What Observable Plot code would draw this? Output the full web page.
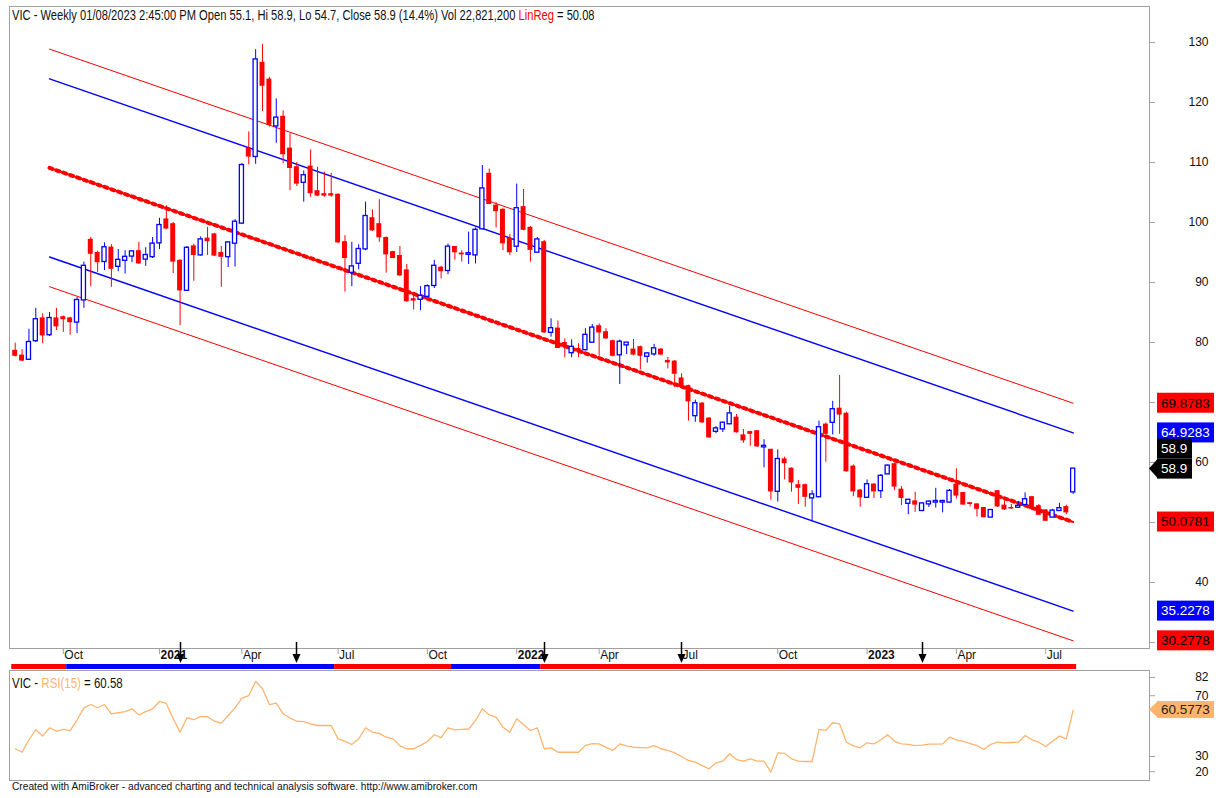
<!DOCTYPE html>
<html><head><meta charset="utf-8">
<script src="https://cdn.jsdelivr.net/npm/d3@7"></script>
<script src="https://cdn.jsdelivr.net/npm/@observablehq/plot@0.6"></script>
<style>
html,body{margin:0;padding:0;background:#fff;}
#wrap{position:relative;width:1226px;height:798px;overflow:hidden;background:#fff;font-family:"Liberation Sans",Arial,sans-serif;}
#main{position:absolute;left:0;top:0;}
#rsi{position:absolute;left:0;top:670px;}
.hdr{position:absolute;white-space:nowrap;color:#111;transform-origin:0 0;}
#title{left:12px;top:7px;font-size:14px;transform:scaleX(0.797);}
#rsiTitle{left:12px;top:675px;font-size:14px;transform:scaleX(0.82);}
#footer{left:12px;top:781px;font-size:10.2px;}
</style></head>
<body><div id="wrap">
<div id="main"></div><div id="rsi"></div>
<div class="hdr" id="title"></div>
<div class="hdr" id="rsiTitle"></div>
<div class="hdr" id="footer"></div>
</div>
<script>
// ---------- DATA (weekly bars, index 0 = Aug 2020 ... 154 = week of 31 Jul 2023) ----------
const opens = [78.6,77.8,77.2,80.3,84.0,81.3,84.0,84.2,84.0,83.4,
 87.1,97.1,94.9,93.5,95.8,92.7,93.7,94.4,95.2,93.9,
 94.3,96.6,100.5,99.7,93.6,88.7,96.0,94.6,97.3,98.0,
 94.9,94.3,96.55,99.9,112.3,111.0,126.6,123.8,116.1,117.6,
 112.3,109.2,106.7,109.3,105.2,104.7,104.7,104.6,96.7,91.7,
 93.2,95.6,100.7,99.7,97.4,95.05,94.4,92.0,87.2,87.2,
 87.7,89.5,92.45,92.0,95.9,94.8,94.7,94.6,98.95,108.1,
 102.8,102.1,97.3,96.05,102.55,99.1,95.05,96.7,81.7,82.3,
 79.9,78.3,78.9,78.8,80.05,82.7,81.7,80.2,77.95,79.6,
 78.8,79.2,77.7,78.1,78.8,76.9,76.8,74.0,72.7,67.8,
 69.8,67.3,65.2,65.6,66.45,67.45,64.5,65.05,65.2,62.6,
 62.1,55.2,60.5,58.95,56.2,56.2,54.1,54.3,66.3,66.7,
 68.95,68.1,59.3,55.3,54.2,56.3,55.3,58.1,59.7,55.45,
 53.2,53.5,52.0,53.1,53.4,53.4,53.4,56.3,54.9,53.2,
 53.0,52.4,50.9,55.2,52.8,52.4,52.55,53.0,54.2,52.7,
 52.0,50.9,52.0,52.55,55.1];
const highs = [79.9,78.8,82.2,85.7,84.8,85.0,85.7,84.4,84.2,87.5,
 93.4,97.5,95.2,96.6,96.3,95.5,95.3,95.3,96.7,95.8,
 97.5,100.7,102.8,100.0,93.8,96.0,96.4,97.6,99.2,98.2,
 96.0,96.8,100.5,109.8,115.1,128.8,129.7,124.2,120.6,118.6,
 114.8,110.0,108.6,112.1,109.2,108.4,108.2,104.8,97.8,96.7,
 96.3,103.4,102.1,103.8,97.6,95.2,96.0,93.0,88.2,89.3,
 89.6,93.7,92.7,96.4,96.0,95.3,98.4,99.1,109.5,108.9,
 103.3,102.3,98.0,106.4,105.5,99.3,97.5,97.0,83.95,83.6,
 80.6,80.45,79.8,82.3,83.0,83.1,82.3,80.4,80.4,80.0,
 80.5,79.4,78.3,79.7,79.0,77.5,77.0,74.8,72.9,70.4,
 70.0,67.5,66.0,66.7,69.4,68.0,65.5,65.2,65.3,63.8,
 62.2,62.1,60.9,59.1,57.0,56.4,55.3,66.9,66.6,70.2,
 74.5,68.4,59.6,55.5,57.1,56.5,58.0,59.6,59.9,56.0,
 53.8,55.05,53.3,53.6,55.7,53.7,55.5,58.95,55.0,53.3,
 53.1,52.5,52.1,55.3,53.6,53.0,53.5,54.95,54.3,53.0,
 52.1,52.2,53.2,52.9,58.9];
const lows = [77.6,76.8,77.0,80.0,79.8,81.0,82.0,81.7,81.2,81.5,
 85.7,89.3,91.7,92.0,89.2,91.8,91.4,93.3,93.0,92.7,
 94.0,95.5,98.8,91.5,82.8,88.5,90.2,94.4,94.5,94.3,
 89.2,92.5,92.6,99.7,109.6,109.7,118.5,115.9,113.2,109.8,
 105.3,106.0,103.4,104.2,104.3,104.2,104.2,96.5,88.4,89.3,
 92.1,95.3,98.5,96.7,91.55,94.0,91.0,86.7,85.4,85.3,
 87.5,89.0,90.6,91.3,93.7,93.4,93.0,93.1,98.8,103.0,
 99.1,95.3,94.5,95.0,98.6,93.4,95.0,81.5,80.9,79.0,
 77.45,77.45,77.5,78.6,79.9,77.7,80.5,77.6,73.0,78.0,
 77.8,75.45,76.55,77.7,77.8,75.6,72.45,72.3,66.9,66.7,
 66.5,64.0,64.8,65.0,66.3,64.9,63.2,62.7,62.5,59.1,
 53.7,53.4,57.1,55.05,53.0,52.55,50.2,54.1,60.05,64.6,
 64.7,58.4,54.3,52.55,54.0,54.0,54.0,58.0,55.3,52.8,
 51.3,51.7,51.8,52.5,52.4,51.6,53.2,53.9,52.9,52.6,
 50.9,50.8,50.8,52.5,52.0,52.2,52.4,52.9,52.1,51.2,
 50.2,50.8,51.9,51.3,54.7];
const closes = [77.8,77.0,80.0,83.8,81.2,84.0,82.7,83.9,83.4,87.0,
 92.7,94.8,93.4,95.8,92.3,93.7,94.2,95.1,93.2,94.5,
 96.4,99.5,99.0,93.5,88.7,95.7,94.6,97.1,96.9,94.5,
 94.3,96.6,100.05,109.5,111.0,127.1,122.8,116.3,117.4,111.4,
 109.1,106.5,107.8,104.9,104.5,104.5,104.5,96.7,94.1,92.6,
 95.5,101.0,98.7,97.55,94.7,94.1,91.2,86.9,87.0,87.7,
 89.3,92.7,91.9,95.9,95.05,94.7,94.8,98.7,105.6,103.1,
 101.9,96.55,95.05,102.3,98.8,95.45,97.1,81.7,82.3,79.1,
 79.3,79.2,78.7,81.2,82.4,81.7,80.7,77.8,80.05,79.9,
 78.0,77.8,78.1,78.95,78.0,76.7,74.8,72.7,70.2,69.8,
 66.7,64.2,65.6,66.55,68.1,65.05,63.7,64.8,62.7,62.7,
 55.2,60.5,59.9,56.7,55.8,54.3,54.6,65.8,64.8,68.8,
 68.0,58.55,55.2,54.2,56.3,55.2,57.7,59.4,56.0,54.1,
 53.7,53.0,53.1,53.4,53.5,53.5,55.2,54.5,53.0,53.1,
 52.3,50.9,52.0,52.7,52.2,52.35,52.7,53.8,52.3,51.3,
 50.3,51.9,52.3,51.7,58.9];
const rsiValues = [35.1,32.8,41,47.6,43.4,48.9,46.7,47.9,47.0,54,
 62,64.2,62.1,64.2,58.1,58.8,59.5,61.4,57.4,59.5,
 61.4,66.2,64.9,54.8,46.0,55.5,54.2,56.4,56.2,53.2,
 52,57,62,68.4,70.1,79.4,74.6,64.2,65.1,58.1,
 55.3,53.2,53,51.5,50.4,50.4,50.4,41.6,39.9,37.9,
 41.6,48.9,46.0,45.2,42.7,41.6,37,35.1,35.1,37.3,
 39.9,44.3,42.4,48.9,47.5,47.8,48.1,53.6,61.4,57.4,
 55.9,49.3,46,54.8,50.9,47.1,48.9,35.1,35.7,32.8,
 32.8,32.8,32.8,37.3,38.4,38.3,36,34.0,38.3,37,
 36.1,35.9,35.7,37.2,35.1,34,32.4,30,27.4,26.3,
 24,21.9,25.8,26.9,31.8,28,26.9,28.5,26.9,26.9,
 19.7,32.4,32.0,28.5,27,26.7,26.7,47.8,47.2,52.2,
 51.4,39.4,37,35.7,39.0,38.3,41,44.3,40,38.3,
 38,37.2,37.5,38.1,38.2,38.3,42.7,41,39.9,38.5,
 37.2,34.6,38,39.4,39.0,39.2,39.4,43.8,41,39.4,
 36.6,40,43.4,41.6,60.5773];

const xTickBars   = [7,21,33,47,60,73,85,97,111,124,137,150];
const xTickLabels = ["Oct","2021","Apr","Jul","Oct","2022","Apr","Jul","Oct","2023","Apr","Jul"];
const yTickValues = [30,40,50,60,70,80,90,100,110,120,130];
const yTickLabels = ["","40","","60","","80","90","100","110","120","130"];
const rsiTickValues = [20,30,70,82];

// linear-regression channel (LinReg line with two bands each side)
const channelNames   = ["upper2","upper1","linreg","lower1","lower2"];
const channelStartBar = 5, channelEndBar = 154;
const channelStart   = [128.9,123.95,109.1,94.25,89.3];
const channelEnd     = [69.8783,64.9283,50.0781,35.2278,30.2778];

const signalBars = [24,41,77,97,132];
const ribbonFrom  = [0,8,47,64,77];
const ribbonTo    = [8,47,64,77,155];
const ribbonState = ["down","up","down","up","down"];

const ticker = "VIC", period = "Weekly", stamp = "01/08/2023 2:45:00 PM", volume = "22,821,200", pctChange = "14.4%";

// ---------- STYLE ----------
const RED = "#ff0000", BLUE = "#0000ff", GRID = "#a0a0a0", ORANGE = "#ffb46e";
const channelColor = {upper2: RED, upper1: BLUE, linreg: RED, lower1: BLUE, lower2: RED};
const channelText  = {upper2: "#000", upper1: "#fff", linreg: "#000", lower1: "#fff", lower2: "#000"};
const FONT = '"Liberation Sans", Arial, sans-serif';

const n = opens.length;
const bars = d3.range(n).map(i => ({i, o: opens[i], h: highs[i], l: lows[i], c: closes[i]}));
const upBars = bars.filter(d => d.c >= d.o), downBars = bars.filter(d => d.c < d.o);
const channelLines = channelNames.map((name, k) => [
  {name, i: channelStartBar, v: channelStart[k]},
  {name, i: channelEndBar, v: channelEnd[k]}]);
const xTicks = xTickBars.map((i, k) => ({i, label: xTickLabels[k], year: /^\d{4}$/.test(xTickLabels[k])}));
const X_DOMAIN = [-0.83, 165.11];

// value boxes on the right axis
function boxMark(items) {
  return (index, scales, values, dim) => {
    const y = scales.y;
    const ax = dim.width - dim.marginRight;
    const g = d3.create("svg:g").attr("font-family", FONT).attr("font-size", 13.5).attr("text-anchor", "start");
    for (const it of items) {
      const cy = y(it.v) + (it.shift || 0);
      const x0 = ax + 8, w = it.w || 57, h = it.h || 20;
      if (it.arrow) {
        g.append("path").attr("d", `M${ax},${cy}L${x0 + 1},${cy - h / 2}L${x0 + 1},${cy + h / 2}Z`).attr("fill", it.bg);
      }
      g.append("rect").attr("x", x0).attr("y", cy - h / 2).attr("width", w).attr("height", h).attr("fill", it.bg);
      g.append("text").attr("x", x0 + 4).attr("y", cy).attr("dy", "0.36em").attr("fill", it.fg).text(it.text);
    }
    return g.node();
  };
}

// ---------- MAIN PRICE PANE ----------
const lastClose = closes[n - 1];
const priceBoxes = channelNames.map((name, k) => ({v: channelEnd[k], text: channelEnd[k].toFixed(4), bg: channelColor[name], fg: channelText[name]}))
  .concat([{v: lastClose, shift: -20, text: String(lastClose), bg: "#000", fg: "#fff", w: 35},
           {v: lastClose, text: String(lastClose), bg: "#000", fg: "#fff", w: 35, arrow: true}]);

const signalMark = (index, scales, values, dim) => {
  const x = scales.x;
  const g = d3.create("svg:g").attr("fill", "#000").attr("stroke", "#000");
  const yb = dim.height - dim.marginBottom;
  for (const b of signalBars) {
    const cx = Math.round(x(b)) + 0.5;
    g.append("line").attr("x1", cx).attr("x2", cx).attr("y1", yb - 6).attr("y2", yb + 8).attr("stroke-width", 1.5);
    g.append("path").attr("d", `M${cx - 4},${yb + 6}L${cx + 4},${yb + 6}L${cx},${yb + 15}Z`).attr("stroke", "none");
  }
  return g.node();
};
const ribbonMark = (index, scales, values, dim) => {
  const x = scales.x;
  const g = d3.create("svg:g");
  const yb = dim.height;
  ribbonFrom.forEach((f, k) => {
    const x1 = x(f - 0.5), x2 = x(ribbonTo[k] - 0.5);
    g.append("rect").attr("x", x1).attr("y", yb - 6).attr("width", x2 - x1).attr("height", 5)
      .attr("fill", ribbonState[k] === "up" ? BLUE : RED);
  });
  return g.node();
};

const mainPlot = Plot.plot({
  width: 1226, height: 670,
  marginLeft: 9, marginRight: 77, marginTop: 6, marginBottom: 22,
  x: {type: "linear", domain: X_DOMAIN, axis: null},
  y: {domain: [29, 136], axis: null},
  style: {fontFamily: FONT, fontSize: "12px", background: "transparent", overflow: "visible"},
  marks: [
    Plot.frame({stroke: GRID}),
    Plot.axisY({anchor: "right", label: null, ticks: yTickValues, tickSize: 5, tickPadding: 54, textAnchor: "end",
      tickFormat: d => yTickLabels[yTickValues.indexOf(d)], stroke: GRID, fill: "#111", fontSize: 12}),
    // channel lines
    ...channelLines.filter(l => l[0].name !== "linreg").map(l =>
      Plot.line(l, {x: "i", y: "v", stroke: channelColor[l[0].name], strokeWidth: channelColor[l[0].name] === BLUE ? 1.4 : 1})),
    Plot.line(channelLines[2], {x: "i", y: "v", stroke: RED, strokeWidth: 2}),
    Plot.line(channelLines[2], {x: "i", y: "v", stroke: RED, strokeWidth: 4, strokeDasharray: "3,4.27"}),
    // wicks
    Plot.ruleX(downBars, {x: "i", y1: "l", y2: "h", stroke: RED, strokeWidth: 1}),
    Plot.ruleX(upBars, {x: "i", y1: "l", y2: "h", stroke: BLUE, strokeWidth: 1}),
    // bodies
    Plot.rect(downBars, {x1: d => d.i - 0.36, x2: d => d.i + 0.36, y1: "o", y2: "c", fill: RED, insetTop: -0.6, insetBottom: -0.6}),
    Plot.rect(upBars, {x1: d => d.i - 0.3, x2: d => d.i + 0.3, y1: "o", y2: "c", fill: "#fff", stroke: BLUE, strokeWidth: 1.3, insetTop: -0.5, insetBottom: -0.5}),
    // x labels in the strip below the pane
    Plot.axisX({ticks: xTickBars, label: null, tickFormat: () => "", tickSize: 6, anchor: "bottom", stroke: GRID}),
    Plot.text(xTicks.filter(d => !d.year), {x: "i", text: "label", frameAnchor: "bottom", dy: 10, dx: 1, textAnchor: "start", fill: "#111", fontSize: 12}),
    Plot.text(xTicks.filter(d => d.year), {x: "i", text: "label", frameAnchor: "bottom", dy: 10, dx: 1, textAnchor: "start", fill: "#111", fontSize: 12, fontWeight: "bold"}),
    signalMark,
    ribbonMark,
    boxMark(priceBoxes)
  ]
});
document.getElementById("main").appendChild(mainPlot);

// ---------- RSI PANE ----------
const rsiData = rsiValues.map((v, i) => ({i, v}));
const rsiLast = rsiValues[n - 1];
const rsiPlot = Plot.plot({
  width: 1226, height: 110,
  marginLeft: 9, marginRight: 77, marginTop: 0, marginBottom: 0,
  x: {type: "linear", domain: X_DOMAIN, axis: null},
  y: {domain: [14.2, 86.6], axis: null},
  style: {fontFamily: FONT, fontSize: "12px", background: "transparent", overflow: "visible"},
  marks: [
    Plot.frame({stroke: GRID}),
    Plot.axisY({anchor: "right", label: null, ticks: rsiTickValues, tickSize: 5, tickPadding: 54, textAnchor: "end", stroke: GRID, fill: "#111", fontSize: 12}),
    Plot.line(rsiData, {x: "i", y: "v", stroke: ORANGE, strokeWidth: 1.3}),
    boxMark([{v: rsiLast, text: rsiLast.toFixed(4), bg: ORANGE, fg: "#222", arrow: true, h: 17}])
  ]
});
document.getElementById("rsi").appendChild(rsiPlot);

// ---------- TEXT ----------
const b = bars[n - 1];
document.getElementById("title").innerHTML =
  `${ticker} - ${period} ${stamp} Open ${b.o}, Hi ${b.h}, Lo ${b.l}, Close ${b.c} (${pctChange}) Vol ${volume} <span style="color:${RED}">LinReg</span> = ${channelEnd[2].toFixed(2)}`;
document.getElementById("rsiTitle").innerHTML =
  `${ticker} - <span style="color:${ORANGE}">RSI(15)</span> = ${rsiLast.toFixed(2)}`;
document.getElementById("footer").textContent =
  "Created with AmiBroker - advanced charting and technical analysis software. http://www.amibroker.com";
</script></body></html>
